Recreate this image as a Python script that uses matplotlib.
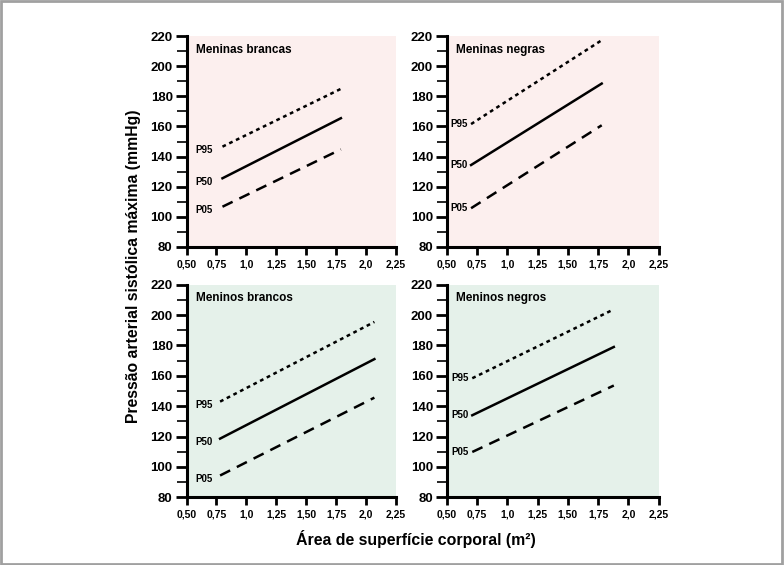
import matplotlib
matplotlib.use('Agg')
import matplotlib.pyplot as plt
from matplotlib.patches import Rectangle

plt.rcParams['font.family'] = ['Liberation Sans Narrow', 'Liberation Sans', 'DejaVu Sans']

# ---- data: start/end of each percentile line per panel ----
titles = ['Meninas brancas', 'Meninas negras', 'Meninos brancos', 'Meninos negros']
x_start = [0.80, 0.70, 0.78, 0.71]
x_end = [1.79, 1.78, 2.07, 1.88]
p95 = [(146.6, 185.0), (161.6, 217.3), (143.0, 195.5), (158.4, 203.8)]
p50 = [(125.6, 165.5), (134.4, 188.5), (118.6, 171.0), (134.0, 179.0)]
p05 = [(106.7, 144.8), (105.7, 160.8), (94.3, 145.6), (109.8, 153.6)]
xticks = [0.50, 0.75, 1.0, 1.25, 1.50, 1.75, 2.0, 2.25]
xticklabels = ['0,50', '0,75', '1,0', '1,25', '1,50', '1,75', '2,0', '2,25']
yticks = [80, 100, 120, 140, 160, 180, 200, 220]
bg = ['#fcefee', '#fcefee', '#e5f1ea', '#e5f1ea']

SANS = ['Liberation Sans', 'DejaVu Sans']

fig = plt.figure(figsize=(7.84, 5.65), dpi=100)
fig.patches.append(Rectangle((0.001, 0.001), 0.997, 0.997, transform=fig.transFigure,
                             fill=False, edgecolor='#a0a0a0', lw=2))

positions = [(0.238, 0.563, 0.267, 0.373), (0.570, 0.563, 0.270, 0.373),
             (0.238, 0.120, 0.267, 0.376), (0.570, 0.120, 0.270, 0.376)]

for i, pos in enumerate(positions):
    ax = fig.add_axes(pos)
    ax.set_facecolor(bg[i])
    ax.set_xlim(0.5, 2.25)
    ax.set_ylim(80, 220)
    for s in ['top', 'right']:
        ax.spines[s].set_visible(False)
    for s in ['left', 'bottom']:
        ax.spines[s].set_linewidth(2.2)
    ax.set_xticks(xticks)
    ax.set_xticklabels(xticklabels, fontsize=7.5, fontweight='bold')
    ax.set_yticks(yticks)
    ax.set_yticklabels([str(v) for v in yticks], fontsize=9.5, fontweight='bold',
                       family=SANS)
    ax.set_yticks(range(90, 220, 20), minor=True)
    ax.tick_params(axis='y', which='major', length=8, width=2, pad=2)
    ax.tick_params(axis='x', which='major', length=6, width=2, pad=3)
    ax.tick_params(axis='y', which='minor', length=7, width=1.2)

    xs = [x_start[i], x_end[i]]
    ax.plot(xs, p95[i], color='black', lw=1.8, ls=(0, (1.5, 1.5)))
    ax.plot(xs, p50[i], color='black', lw=1.8, ls='-')
    ax.plot(xs, p05[i], color='black', lw=1.8, ls=(0, (4.5, 3)))
    if i in (0, 2):
        lx, ha, dy = 0.57, 'left', -2.5
    else:
        lx, ha, dy = x_start[i] - 0.03, 'right', 0
    for lab, v in [('P95', p95[i][0]), ('P50', p50[i][0]), ('P05', p05[i][0])]:
        ax.text(lx, v + dy, lab, fontsize=7, fontweight='bold', ha=ha, va='center')
    ax.text(0.045, 0.965, titles[i], transform=ax.transAxes, fontsize=8.5,
            fontweight='bold', ha='left', va='top', family=SANS)

fig.text(0.170, 0.529, 'Pressão arterial sistólica máxima (mmHg)', rotation=90,
         ha='center', va='center', fontsize=11.3, fontweight='bold', family=SANS)
fig.text(0.531, 0.046, 'Área de superfície corporal (m²)', ha='center', va='center',
         fontsize=11.4, fontweight='bold', family=SANS)

fig.savefig('out.png', dpi=100)
